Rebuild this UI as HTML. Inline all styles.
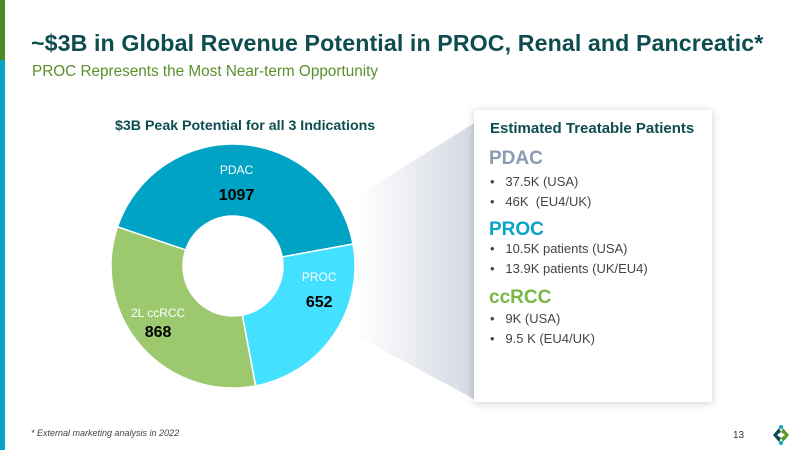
<!DOCTYPE html>
<html><head><meta charset="utf-8"><style>
body{margin:0;width:800px;height:450px;overflow:hidden;background:#fff;font-family:"Liberation Sans",sans-serif;position:relative}
.abs{position:absolute}
</style></head><body>
<div class="abs" style="left:0;top:0;width:5px;height:60px;background:#4f8a24"></div>
<div class="abs" style="left:0;top:60px;width:5px;height:390px;background:#0aa3c8"></div>
<div class="abs" style="left:31px;top:30px;font-size:23.2px;font-weight:bold;color:#0e4d4f;white-space:nowrap;letter-spacing:0.1px">~$3B in Global Revenue Potential in PROC, Renal and Pancreatic*</div>
<div class="abs" style="left:32px;top:63px;font-size:15.3px;color:#5a8f2c;white-space:nowrap">PROC Represents the Most Near-term Opportunity</div>
<div class="abs" style="left:115px;top:118px;font-size:14.2px;font-weight:bold;color:#0e4d4f;white-space:nowrap">$3B Peak Potential for all 3 Indications</div>
<svg class="abs" style="left:0;top:0" width="800" height="450">
<defs><linearGradient id="g" x1="0" x2="1"><stop offset="0" stop-color="#fff"/><stop offset="1" stop-color="#d3d8e2"/></linearGradient></defs>
<polygon points="355,197 476,122 476,400 355,335" fill="url(#g)"/>
<g id="slices"></g>
</svg>
<div class="abs" style="left:474px;top:110px;width:238px;height:292px;background:#fff;box-shadow:0 1px 8px rgba(0,0,0,0.2)">
<div style="position:absolute;left:16px;top:10px;font-size:15px;font-weight:bold;color:#0e4d4f;white-space:nowrap">Estimated Treatable Patients</div>
<div style="position:absolute;left:15px;top:38px;font-size:19px;font-weight:bold;color:#8a9bb3">PDAC</div>
<div style="position:absolute;left:16px;top:64px;font-size:13px;color:#444">•&nbsp;&nbsp;&nbsp;37.5K (USA)</div>
<div style="position:absolute;left:16px;top:84px;font-size:13px;color:#444">•&nbsp;&nbsp;&nbsp;46K &nbsp;(EU4/UK)</div>
<div style="position:absolute;left:15px;top:109px;font-size:19px;font-weight:bold;color:#0aa3c8">PROC</div>
<div style="position:absolute;left:16px;top:131px;font-size:13px;color:#444">•&nbsp;&nbsp;&nbsp;10.5K patients (USA)</div>
<div style="position:absolute;left:16px;top:151px;font-size:13px;color:#444">•&nbsp;&nbsp;&nbsp;13.9K patients (UK/EU4)</div>
<div style="position:absolute;left:15px;top:177px;font-size:19px;font-weight:bold;color:#7ab648">ccRCC</div>
<div style="position:absolute;left:16px;top:201px;font-size:13px;color:#444">•&nbsp;&nbsp;&nbsp;9K (USA)</div>
<div style="position:absolute;left:16px;top:221px;font-size:13px;color:#444">•&nbsp;&nbsp;&nbsp;9.5 K (EU4/UK)</div>
</div>
<div class="abs" style="left:31px;top:428px;font-size:9px;font-style:italic;color:#444">* External marketing analysis in 2022</div>
<div class="abs" style="left:733px;top:430px;font-size:10px;color:#333">13</div>
<svg class="abs" style="left:770px;top:424px" width="22" height="22">
<path d="M3 11 L9 4 L11 8 L7 11 L11 14 L9 18 Z" fill="#0e4d4f"/>
<path d="M19 11 L13 4 L11 8 L15 11 L11 14 L13 18 Z" fill="#5a9a2c"/>
<circle cx="11" cy="3" r="2" fill="#0aa3c8"/><circle cx="11" cy="19" r="2" fill="#0aa3c8"/>
</svg>
<script>
const categories=["PDAC","PROC","2L ccRCC"];
const values=[1097,652,868];
const colors=["#00a3c4","#44e0ff","#9dc96e"];
const cx=233,cy=266,R=122,r=50,start=-71.3;
// per-slice label nudges (styling)
const nudgeX=[-3,12,-7];
const nudgeY=[8,-26,2];
const g=document.getElementById('slices');
const NS='http://www.w3.org/2000/svg';
const total=values.reduce((a,b)=>a+b,0);
function pt(a,rad){const t=(a-90)*Math.PI/180;return [cx+rad*Math.cos(t),cy+rad*Math.sin(t)];}
let a=start;
values.forEach((v,i)=>{
 const sweep=v/total*360,a2=a+sweep,large=sweep>180?1:0;
 const p1=pt(a,R),p2=pt(a2,R),p3=pt(a2,r),p4=pt(a,r);
 const p=document.createElementNS(NS,'path');
 p.setAttribute('d',`M${p1} A${R},${R} 0 ${large} 1 ${p2} L${p3} A${r},${r} 0 ${large} 0 ${p4} Z`);
 p.setAttribute('fill',colors[i]);p.setAttribute('stroke','#fff');p.setAttribute('stroke-width','1.5');
 
 
 g.appendChild(p);
 const mid=a+sweep/2;
 const c=pt(mid,(R+r)/2+4);
 const x=c[0]+nudgeX[i],y=c[1]+nudgeY[i];
 const t1=document.createElementNS(NS,'text');
 t1.setAttribute('x',x);t1.setAttribute('y',y-10);t1.setAttribute('text-anchor','middle');
 t1.setAttribute('font-size','12');t1.setAttribute('fill','#fff');t1.setAttribute('font-family','Liberation Sans');
 t1.textContent=categories[i];
 
 
 g.appendChild(t1);
 const t2=document.createElementNS(NS,'text');
 t2.setAttribute('x',x);t2.setAttribute('y',y+(i==2?10:16));t2.setAttribute('text-anchor','middle');
 t2.setAttribute('font-size','16');t2.setAttribute('font-weight','bold');t2.setAttribute('fill','#000');t2.setAttribute('font-family','Liberation Sans');
 t2.textContent=v;
 
 
 g.appendChild(t2);
 a=a2;
});
</script>
</body></html>
